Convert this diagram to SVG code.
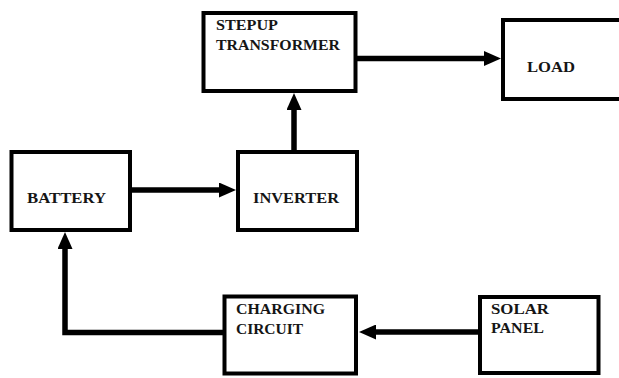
<svg xmlns="http://www.w3.org/2000/svg" width="619" height="378" viewBox="0 0 619 378">
<style>
.box{fill:#fff;stroke:#000;stroke-width:4}
.lbl{font-family:'Liberation Serif','DejaVu Serif',serif;font-weight:700;font-size:14px;fill:#151515}
.wire{fill:none;stroke:#000;stroke-width:5.5}
</style>
<defs>
<marker id="ah" viewBox="0 0 17 15" refX="1" refY="7.5" markerWidth="17" markerHeight="15" markerUnits="userSpaceOnUse" orient="auto">
<path d="M0,0 L17,7.5 L0,15 z" fill="#000"/>
</marker>
</defs>
<rect width="619" height="378" fill="#fff"/>
<g id="connectors">
<line class="wire" x1="356" y1="58.5" x2="485" y2="58.5" marker-end="url(#ah)"/>
<line class="wire" x1="294" y1="151" x2="294" y2="109" marker-end="url(#ah)"/>
<line class="wire" x1="131" y1="190" x2="220" y2="190" marker-end="url(#ah)"/>
<polyline class="wire" points="224,332.5 65,332.5 65,248" marker-end="url(#ah)"/>
<line class="wire" x1="479" y1="332" x2="375" y2="332" marker-end="url(#ah)"/>
</g>
<g id="stepup">
<rect class="box" x="203.5" y="13" width="152" height="78"/>
<text class="lbl" x="216" y="30" textLength="62" lengthAdjust="spacingAndGlyphs">STEPUP</text>
<text class="lbl" x="216" y="49.5" textLength="124" lengthAdjust="spacingAndGlyphs">TRANSFORMER</text>
</g>
<g id="load">
<rect class="box" x="503" y="20" width="130" height="79"/>
<text class="lbl" x="527" y="71.5" textLength="48" lengthAdjust="spacingAndGlyphs">LOAD</text>
</g>
<g id="battery">
<rect class="box" x="11.5" y="152" width="118.5" height="78"/>
<text class="lbl" x="27" y="203" textLength="79" lengthAdjust="spacingAndGlyphs">BATTERY</text>
</g>
<g id="inverter">
<rect class="box" x="238" y="152" width="119" height="78"/>
<text class="lbl" x="253" y="203" textLength="86" lengthAdjust="spacingAndGlyphs">INVERTER</text>
</g>
<g id="charging">
<rect class="box" x="224.5" y="296.5" width="131.5" height="77"/>
<text class="lbl" x="236" y="313.5" textLength="89" lengthAdjust="spacingAndGlyphs">CHARGING</text>
<text class="lbl" x="236" y="333.5" textLength="67" lengthAdjust="spacingAndGlyphs">CIRCUIT</text>
</g>
<g id="solar">
<rect class="box" x="480" y="297" width="118.5" height="76"/>
<text class="lbl" x="491" y="313.5" textLength="58" lengthAdjust="spacingAndGlyphs">SOLAR</text>
<text class="lbl" x="491" y="333" textLength="53" lengthAdjust="spacingAndGlyphs">PANEL</text>
</g>
</svg>
